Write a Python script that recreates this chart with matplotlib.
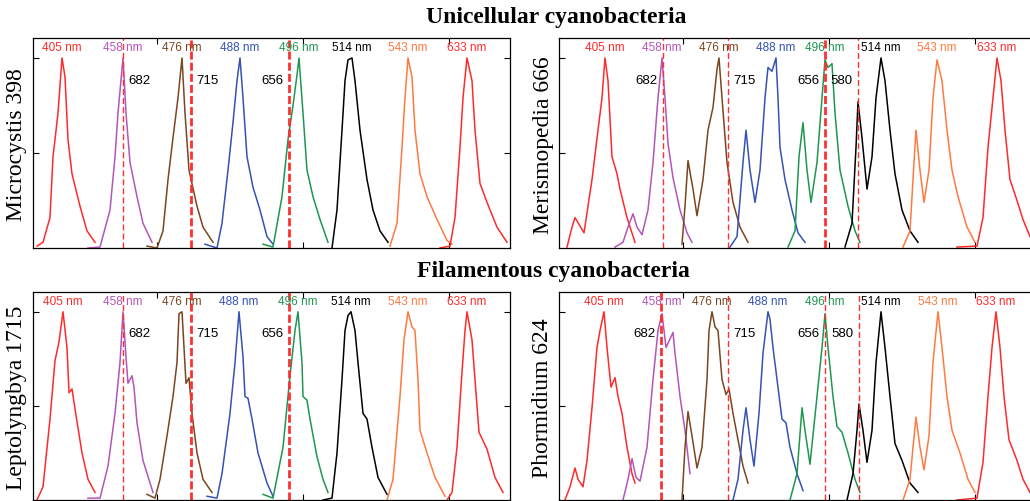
import matplotlib.pyplot as plt

plt.rcParams['font.family'] = 'Liberation Sans'

# laser lines and their colours
lasers = ['405 nm', '458 nm', '476 nm', '488 nm', '496 nm', '514 nm', '543 nm', '633 nm']
colors = ['#ff2a2a', '#b455b8', '#7a4620', '#3552b4', '#1f9650', '#000000', '#ff7a40', '#ff2a2a']

names = ['Microcystis 398', 'Merismopedia 666', 'Leptolyngbya 1715', 'Phormidium 624']

# spectra (x = channel, y = normalised intensity)
micro_x = [
    [4, 10, 17, 20, 25, 29, 32, 35, 39, 47, 54, 62],
    [55, 67, 77, 82, 85, 90, 93, 97, 104, 110, 119],
    [114, 124, 130, 135, 140, 145, 149, 152, 156, 164, 170, 180],
    [172, 184, 189, 195, 200, 204, 207, 210, 214, 220, 227, 234, 240],
    [230, 240, 249, 255, 260, 264, 266, 270, 274, 280, 287, 295],
    [299, 304, 309, 312, 315, 319, 322, 327, 334, 340, 347, 355],
    [357, 364, 369, 372, 375, 379, 382, 387, 394, 404, 414, 419],
    [407, 417, 422, 427, 430, 434, 439, 442, 447, 454, 464, 474],
]
micro_y = [
    [0.01, 0.03, 0.16, 0.48, 0.71, 1.0, 0.9, 0.57, 0.39, 0.22, 0.09, 0.03],
    [0, 0.005, 0.2, 0.48, 0.71, 1.0, 0.71, 0.45, 0.27, 0.13, 0.03],
    [0.01, 0, 0.09, 0.36, 0.58, 0.79, 1.0, 0.71, 0.41, 0.22, 0.11, 0.03],
    [0.02, 0, 0.13, 0.41, 0.66, 0.88, 1.0, 0.79, 0.48, 0.32, 0.2, 0.06, 0.02],
    [0.02, 0.005, 0.27, 0.57, 0.75, 0.91, 1.0, 0.71, 0.41, 0.27, 0.15, 0.03],
    [0, 0.2, 0.62, 0.88, 0.99, 1.0, 0.88, 0.62, 0.36, 0.2, 0.09, 0.03],
    [0.01, 0.13, 0.53, 0.79, 1.0, 0.9, 0.62, 0.39, 0.27, 0.15, 0.04, 0.02],
    [0, 0.01, 0.16, 0.53, 0.79, 1.0, 0.88, 0.62, 0.34, 0.24, 0.11, 0.03],
]

meris_x = [
    [8, 13, 16, 25, 33, 39, 43, 46, 49, 53, 58, 61, 68, 76],
    [56, 64, 69, 74, 78, 83, 89, 94, 99, 103, 106, 109, 114, 121, 128, 133],
    [123, 126, 129, 134, 138, 144, 149, 154, 158, 160, 163, 168, 174, 181, 189],
    [171, 178, 184, 187, 191, 196, 201, 206, 209, 213, 217, 219, 221, 226, 233, 239, 246],
    [229, 236, 240, 244, 248, 252, 258, 263, 266, 269, 273, 276, 281, 289, 296, 301],
    [286, 293, 297, 299, 303, 308, 313, 317, 322, 326, 331, 336, 343, 351, 359],
    [344, 351, 355, 357, 361, 365, 370, 374, 378, 383, 388, 393, 399, 408, 416],
    [398, 418, 424, 429, 434, 438, 442, 446, 451, 458, 464, 471, 477],
]
meris_y = [
    [0.005, 0.11, 0.16, 0.08, 0.36, 0.62, 0.79, 1.0, 0.88, 0.48, 0.39, 0.31, 0.16, 0.03],
    [0.005, 0.03, 0.11, 0.18, 0.11, 0.07, 0.2, 0.45, 0.79, 1.0, 0.79, 0.55, 0.37, 0.2, 0.08, 0.03],
    [0.02, 0.22, 0.46, 0.31, 0.17, 0.36, 0.62, 0.74, 0.94, 1.0, 0.79, 0.45, 0.24, 0.11, 0.03],
    [0.005, 0.06, 0.45, 0.62, 0.41, 0.24, 0.41, 0.79, 0.95, 0.93, 1.0, 0.79, 0.53, 0.36, 0.2, 0.08, 0.03],
    [0.005, 0.09, 0.48, 0.66, 0.41, 0.24, 0.45, 0.79, 0.99, 0.95, 0.97, 0.71, 0.41, 0.22, 0.09, 0.03],
    [0.005, 0.13, 0.53, 0.77, 0.58, 0.31, 0.48, 0.79, 1.0, 0.88, 0.62, 0.39, 0.2, 0.09, 0.03],
    [0.005, 0.09, 0.45, 0.62, 0.41, 0.24, 0.41, 0.79, 0.99, 0.88, 0.62, 0.41, 0.27, 0.11, 0.03],
    [0.005, 0.01, 0.16, 0.53, 0.79, 1.0, 0.88, 0.62, 0.36, 0.25, 0.15, 0.06, 0.02],
]

lepto_x = [
    [4, 10, 17, 22, 26, 30, 34, 36, 39, 43, 49, 55, 62],
    [55, 67, 75, 82, 87, 90, 93, 95, 99, 101, 104, 110, 120],
    [114, 122, 127, 134, 140, 144, 146, 149, 151, 153, 156, 159, 164, 170, 179],
    [174, 184, 189, 197, 202, 206, 210, 212, 215, 219, 225, 234, 240],
    [230, 240, 250, 257, 262, 265, 269, 270, 274, 277, 284, 290, 295],
    [290, 299, 304, 309, 312, 315, 318, 322, 325, 330, 334, 339, 345, 354],
    [354, 360, 367, 371, 375, 379, 382, 385, 387, 394, 402, 412],
    [414, 419, 424, 429, 432, 434, 439, 442, 446, 454, 462, 470],
]
lepto_y = [
    [0, 0.07, 0.43, 0.74, 0.84, 1.0, 0.81, 0.57, 0.59, 0.45, 0.25, 0.11, 0.04],
    [0.01, 0.01, 0.18, 0.46, 0.73, 1.0, 0.76, 0.62, 0.66, 0.6, 0.41, 0.21, 0.04],
    [0.03, 0.01, 0.11, 0.34, 0.55, 0.73, 0.99, 1.0, 0.81, 0.62, 0.65, 0.46, 0.25, 0.11, 0.04],
    [0.02, 0.01, 0.14, 0.46, 0.73, 1.0, 0.76, 0.55, 0.54, 0.43, 0.25, 0.09, 0.02],
    [0.03, 0.01, 0.28, 0.66, 0.9, 1.0, 0.73, 0.55, 0.53, 0.43, 0.23, 0.11, 0.04],
    [0, 0.01, 0.25, 0.64, 0.9, 0.98, 1.0, 0.9, 0.73, 0.46, 0.43, 0.28, 0.12, 0.03],
    [0, 0.11, 0.55, 0.85, 1.0, 0.92, 0.9, 0.64, 0.37, 0.25, 0.12, 0.02],
    [0, 0.04, 0.28, 0.68, 0.9, 1.0, 0.85, 0.64, 0.36, 0.27, 0.12, 0.04],
]

phorm_x = [
    [6, 11, 16, 19, 24, 28, 33, 38, 41, 45, 48, 52, 56, 59, 63, 68, 73, 76],
    [64, 69, 73, 77, 81, 88, 94, 99, 103, 107, 114, 116, 121, 126, 131],
    [123, 126, 129, 133, 138, 143, 148, 150, 153, 156, 159, 163, 167, 170, 174, 179, 184, 189],
    [174, 179, 184, 187, 191, 195, 200, 204, 209, 211, 214, 218, 223, 227, 231, 238, 244],
    [231, 238, 243, 246, 251, 258, 263, 266, 269, 274, 278, 283, 289, 296, 301],
    [288, 294, 298, 300, 304, 308, 313, 317, 322, 326, 331, 336, 343, 351, 359],
    [344, 351, 354, 357, 361, 365, 370, 374, 379, 383, 388, 393, 401, 409, 416],
    [398, 418, 424, 429, 433, 437, 441, 445, 450, 458, 464, 471],
]
phorm_y = [
    [0, 0.07, 0.17, 0.11, 0.07, 0.21, 0.49, 0.81, 0.9, 1.0, 0.81, 0.6, 0.65, 0.55, 0.46, 0.28, 0.14, 0.09],
    [0, 0.11, 0.22, 0.12, 0.1, 0.28, 0.64, 0.9, 0.99, 0.81, 0.89, 0.78, 0.55, 0.37, 0.14],
    [0, 0.28, 0.47, 0.34, 0.17, 0.28, 0.64, 0.9, 1.0, 0.92, 0.9, 0.64, 0.56, 0.59, 0.46, 0.32, 0.18, 0.09],
    [0, 0.11, 0.37, 0.49, 0.32, 0.18, 0.46, 0.78, 1.0, 0.96, 0.81, 0.64, 0.43, 0.41, 0.28, 0.14, 0.05],
    [0, 0.14, 0.49, 0.37, 0.19, 0.55, 0.81, 0.99, 0.81, 0.55, 0.39, 0.36, 0.25, 0.11, 0.04],
    [0, 0.14, 0.37, 0.51, 0.37, 0.2, 0.37, 0.73, 1.0, 0.81, 0.55, 0.3, 0.21, 0.09, 0.04],
    [0, 0.11, 0.28, 0.44, 0.28, 0.16, 0.34, 0.73, 1.0, 0.81, 0.55, 0.37, 0.25, 0.11, 0.04],
    [0, 0.01, 0.2, 0.55, 0.81, 1.0, 0.81, 0.55, 0.32, 0.21, 0.11, 0.04],
]

# detection windows (dashed lines) and their wavelength labels
micro_marks = [90, 158, 256]
meris_marks = [104, 169, 266, 299]
lepto_marks = [90, 158, 256]
phorm_marks = [102, 169, 266, 300]
three_labels = ['682', '715', '656']
four_labels = ['682', '715', '656', '580']

#####

fig = plt.figure(figsize=(10.3, 5.01), dpi=100)
W, H = 1030.0, 501.0

panels = [
    (micro_x, micro_y, micro_marks, three_labels, [33, 248, 210]),
    (meris_x, meris_y, meris_marks, four_labels, [559, 248, 210]),
    (lepto_x, lepto_y, lepto_marks, three_labels, [33, 500, 208]),
    (phorm_x, phorm_y, phorm_marks, four_labels, [559, 500, 208]),
]
thick = [[False, True, True], [False, False, True, False],
         [False, True, True], [True, False, False, False]]
sides = [['r', 'r', 'l'], ['l', 'r', 'l', 'l'],
         ['r', 'r', 'l'], ['l', 'r', 'l', 'l']]

for i, (xs, ys, marks, mlabels, box) in enumerate(panels):
    left, bottom, h = box
    ax = fig.add_axes([left / W, 1 - bottom / H, 477 / W, h / H])
    ax.set_xlim(0, 477)
    ax.set_ylim(0, 1.105)

    for j in range(len(xs)):
        ax.plot(xs[j], ys[j], color=colors[j], lw=1.1)
        peak = xs[j][ys[j].index(max(ys[j]))]
        ax.text(peak, 1.053, lasers[j], color=colors[j], fontsize=8.5,
                ha='center', va='center')

    for k, m in enumerate(marks):
        if thick[i][k]:
            ax.axvline(m, color='#ff3030', lw=2.0, dashes=(2.9, 1.1))
        else:
            ax.axvline(m, color='#ff3030', lw=1.0, dashes=(4.3, 2.2))
        if sides[i][k] == 'r':
            ax.annotate(mlabels[k], (m, 0.88), xytext=(4, 0), textcoords='offset points',
                        ha='left', va='center', fontsize=9.5)
        else:
            ax.annotate(mlabels[k], (m, 0.88), xytext=(-4, 0), textcoords='offset points',
                        ha='right', va='center', fontsize=9.5)

    ax.set_xticks([124, 270, 416])
    ax.set_yticks([0.5, 1.0])
    ax.set_xticklabels([])
    ax.set_yticklabels([])
    ax.tick_params(direction='in', length=4, width=0.8, top=True, right=True)
    for s in ax.spines.values():
        s.set_linewidth(0.9)

    fig.text((left - 16) / W, 1 - (bottom - h / 2 + 2) / H, names[i], rotation=90,
             ha='center', va='center', fontsize=17, family='Liberation Serif')

fig.text(556 / W, 1 - 18 / H, 'Unicellular cyanobacteria', ha='center', va='center',
         fontsize=17, weight='bold', family='Liberation Serif')
fig.text(553 / W, 1 - 271 / H, 'Filamentous cyanobacteria', ha='center', va='center',
         fontsize=17, weight='bold', family='Liberation Serif')

plt.savefig('out.png')
print('saved out.png')
